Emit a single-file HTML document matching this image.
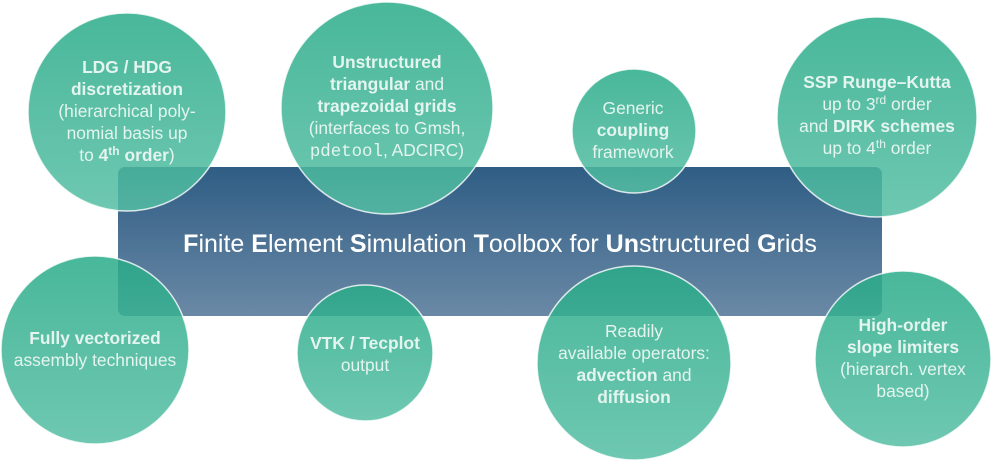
<!DOCTYPE html>
<html><head><meta charset="utf-8"><style>
html,body{margin:0;padding:0;background:#fff;}
svg{display:block;}
text{font-family:"Liberation Sans",sans-serif;font-size:17.4px;fill:#e4f4ef;text-anchor:middle;}
.b{font-weight:bold;}
.m{font-family:"Liberation Mono",monospace;}
</style></head><body>
<svg width="992" height="461" viewBox="0 0 992 461" xmlns="http://www.w3.org/2000/svg">
<defs>
<linearGradient id="rg" x1="0" y1="0" x2="0" y2="1">
<stop offset="0" stop-color="#2f5d84"/><stop offset="1" stop-color="#6a89a6"/>
</linearGradient>
<linearGradient id="cg" x1="0" y1="0" x2="0" y2="1">
<stop offset="0" stop-color="rgb(41,171,136)"/><stop offset="1" stop-color="rgb(85,190,164)"/>
</linearGradient>
</defs>
<rect x="118" y="167" width="764" height="149" rx="7" fill="url(#rg)"/>
<g fill="url(#cg)" fill-opacity="0.85" stroke="#ffffff" stroke-opacity="0.8" stroke-width="1.5">
<circle cx="127" cy="112" r="99"/>
<circle cx="387" cy="108" r="106"/>
<circle cx="634" cy="131" r="62"/>
<circle cx="877" cy="117" r="100"/>
<circle cx="95" cy="350" r="94"/>
<circle cx="365" cy="353" r="68"/>
<circle cx="634" cy="363" r="97"/>
<circle cx="903" cy="359" r="88"/>
</g>
<text x="500" y="252" style="font-size:25px;fill:#fff"><tspan class="b">F</tspan>inite <tspan class="b">E</tspan>lement <tspan class="b">S</tspan>imulation <tspan class="b">T</tspan>oolbox for <tspan class="b">Un</tspan>structured <tspan class="b">G</tspan>rids</text>

<text x="127" y="73" class="b">LDG / HDG</text>
<text x="127" y="95" class="b">discretization</text>
<text x="127" y="117">(hierarchical poly-</text>
<text x="127" y="139">nomial basis up</text>
<text x="127" y="161">to <tspan class="b">4<tspan dy="-6" style="font-size:12px">th</tspan><tspan dy="6"> order</tspan></tspan>)</text>

<text x="387" y="68" class="b">Unstructured</text>
<text x="387" y="90"><tspan class="b">triangular</tspan> and</text>
<text x="387" y="112" class="b">trapezoidal grids</text>
<text x="387" y="134">(interfaces to Gmsh,</text>
<text x="387" y="156"><tspan class="m">pdetool</tspan>, ADCIRC)</text>

<text x="633" y="114">Generic</text>
<text x="633" y="136" class="b">coupling</text>
<text x="633" y="158">framework</text>

<text x="877" y="88" class="b">SSP Runge–Kutta</text>
<text x="877" y="110">up to 3<tspan dy="-6" style="font-size:12px">rd</tspan><tspan dy="6"> order</tspan></text>
<text x="877" y="132">and <tspan class="b">DIRK schemes</tspan></text>
<text x="877" y="154">up to 4<tspan dy="-6" style="font-size:12px">th</tspan><tspan dy="6"> order</tspan></text>

<text x="95" y="344" class="b">Fully vectorized</text>
<text x="95" y="366">assembly techniques</text>

<text x="365" y="349" class="b">VTK / Tecplot</text>
<text x="365" y="371">output</text>

<text x="634" y="337">Readily</text>
<text x="634" y="359">available operators:</text>
<text x="634" y="381"><tspan class="b">advection</tspan> and</text>
<text x="634" y="403" class="b">diffusion</text>

<text x="903" y="331" class="b">High-order</text>
<text x="903" y="353" class="b">slope limiters</text>
<text x="903" y="375">(hierarch. vertex</text>
<text x="903" y="397">based)</text>
</svg>
</body></html>
